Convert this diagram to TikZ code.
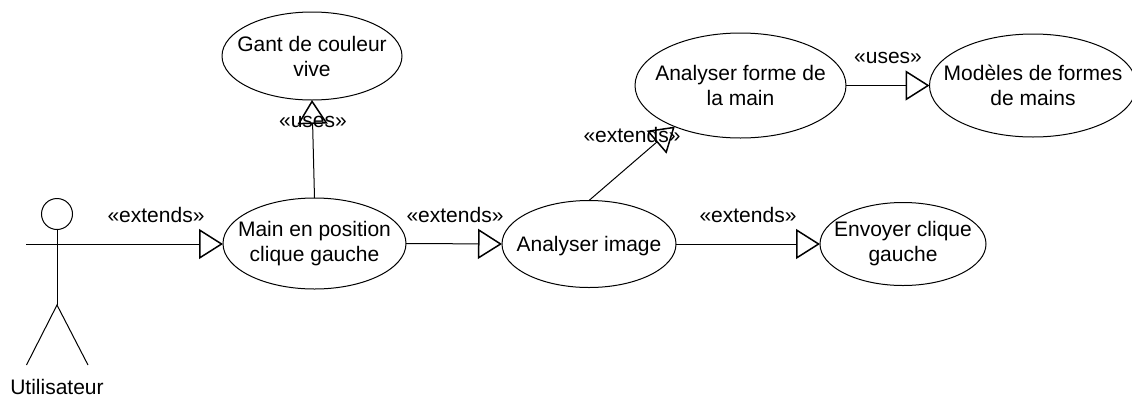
\documentclass[tikz,border=0pt]{standalone}
\usepackage{fontspec}
\setmainfont{Liberation Sans}
\usetikzlibrary{shapes.geometric,arrows.meta}
\tikzset{
  usecase/.style={draw=black,line width=1pt,ellipse,inner xsep=-60pt,inner ysep=-30pt,outer sep=0pt,align=center,font=\fontsize{21}{25}\selectfont,execute at begin node={\rule{0pt}{19pt}}},
  lbl/.style={inner sep=0pt,font=\fontsize{21}{25}\selectfont},
  rel/.style={draw=black,line width=1pt,-{Triangle[open,length=24pt,width=30pt,line width=1.5pt]}},
  stick/.style={draw=black,line width=1pt}
}
\begin{document}
\begin{tikzpicture}[x=1pt,y=-1pt]
\clip (0,0) rectangle (1132,397);
\node[usecase,minimum width=183pt,minimum height=91pt] (main) at (314.5,243.5) {Main en position\\clique gauche};
\node[usecase,minimum width=180pt,minimum height=88pt] (gant) at (312,56) {Gant de couleur\\vive};
\node[usecase,minimum width=211pt,minimum height=105pt] (forme) at (740.5,85.5) {Analyser forme de\\la main};
\node[usecase,minimum width=207pt,minimum height=103pt] (modeles) at (1033,85.5) {Modèles de formes\\de mains};
\node[usecase,minimum width=174pt,minimum height=87pt] (image) at (589,244) {Analyser image};
\node[usecase,minimum width=166pt,minimum height=83pt] (envoyer) at (903,244) {Envoyer clique\\gauche};
% actor
\node[draw=black,line width=1pt,circle,minimum size=31pt,inner sep=0pt,outer sep=0pt] (head) at (57,214) {};
\coordinate (hip) at (57,305);
\coordinate (armL) at (26,244);
\coordinate (legL) at (26.5,365);
\coordinate (legR) at (88,365);
\draw[stick] (head.south) -- (hip);
\draw[stick] (legL) -- (hip) -- (legR);
\node[lbl] (actor) at (57,387) {Utilisateur};
% connectors
\draw[rel] (armL) -- (armL -| main.west);
\draw[rel] (main.east) -- (image.west);
\draw[rel] (image.east) -- (envoyer.west);
\draw[rel] (main.north) -- (gant.south);
\draw[rel] (image.north) -- (forme.212);
\draw[rel] (forme.east) -- (modeles.west);
% labels
\node[lbl] (l1) at (156,215) {«extends»};
\node[lbl] (l2) at (455,215) {«extends»};
\node[lbl] (l3) at (748,215) {«extends»};
\node[lbl] (l4) at (313,122) {«uses»};
\node[lbl] (l5) at (632,135) {«extends»};
\node[lbl] (l6) at (888,58) {«uses»};
\end{tikzpicture}
\end{document}
